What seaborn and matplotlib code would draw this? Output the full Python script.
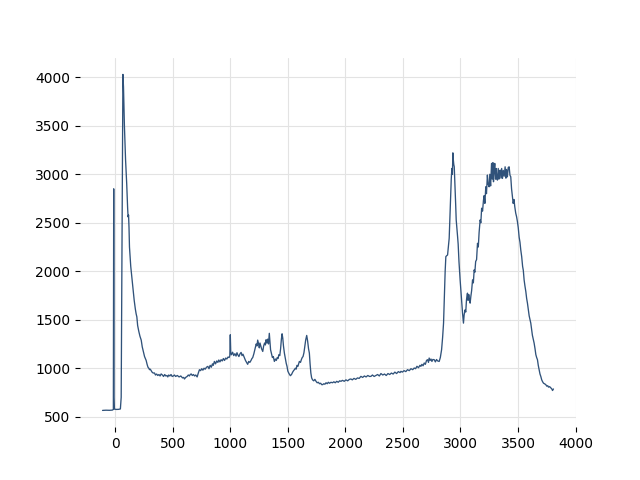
import pandas as pd
import matplotlib
matplotlib.use("Agg")
import matplotlib.pyplot as plt
import seaborn as sns

# spectrum (shift vs. intensity)
shift = [
    -110, -80, -50, -25, -16, -13, -10, -7, 10, 30, 45, 52, 60, 67, 72, 80, 90, 100, 108, 112,
    116, 120, 124, 135, 145, 153, 165, 175, 182, 188, 195, 205, 215, 226, 235, 245, 255, 262, 269, 277,
    285, 292, 298, 305, 312, 320, 330, 341, 350, 360, 370, 380, 390, 399, 410, 420, 430, 440, 450, 457,
    465, 475, 485, 495, 505, 515, 525, 540, 555, 570, 585, 595, 602, 612, 625, 635, 645, 652, 660, 670,
    680, 690, 700, 712, 722, 732, 742, 752, 762, 772, 782, 793, 805, 815, 825, 835, 845, 852, 862, 872,
    882, 892, 900, 910, 920, 930, 940, 950, 960, 970, 980, 990, 996, 1000, 1004, 1010, 1020, 1030, 1040, 1050,
    1058, 1065, 1075, 1085, 1094, 1102, 1110, 1122, 1132, 1142, 1151, 1160, 1170, 1180, 1188, 1195, 1205, 1215, 1225, 1232,
    1238, 1246, 1252, 1258, 1265, 1272, 1282, 1290, 1298, 1305, 1311, 1318, 1325, 1332, 1339, 1345, 1350, 1358, 1366, 1374,
    1383, 1392, 1400, 1408, 1415, 1422, 1430, 1437, 1444, 1450, 1456, 1462, 1470, 1478, 1486, 1493, 1500, 1510, 1522, 1532,
    1542, 1550, 1557, 1565, 1572, 1580, 1588, 1595, 1600, 1610, 1618, 1625, 1632, 1640, 1648, 1655, 1664, 1672, 1680, 1687,
    1693, 1700, 1707, 1715, 1725, 1735, 1745, 1755, 1765, 1775, 1785, 1795, 1803, 1812, 1822, 1832, 1842, 1852, 1862, 1875,
    1888, 1900, 1912, 1925, 1938, 1950, 1962, 1975, 1990, 2005, 2020, 2035, 2048, 2060, 2075, 2090, 2105, 2120, 2135, 2150,
    2165, 2180, 2195, 2210, 2222, 2235, 2250, 2265, 2280, 2295, 2309, 2325, 2340, 2355, 2370, 2385, 2400, 2415, 2430, 2445,
    2460, 2475, 2483, 2495, 2510, 2525, 2540, 2555, 2570, 2585, 2598, 2610, 2622, 2635, 2648, 2656, 2665, 2675, 2685, 2695,
    2705, 2714, 2722, 2728, 2736, 2744, 2752, 2760, 2772, 2782, 2792, 2802, 2815, 2825, 2836, 2845, 2853, 2860, 2867, 2873,
    2880, 2888, 2895, 2902, 2908, 2914, 2920, 2925, 2930, 2934, 2938, 2942, 2946, 2952, 2958, 2963, 2970, 2975, 2980, 2987,
    2997, 3005, 3012, 3018, 3022, 3026, 3032, 3040, 3046, 3052, 3058, 3061, 3066, 3072, 3078, 3084, 3090, 3097, 3105, 3112,
    3119, 3125, 3132, 3140, 3148, 3155, 3162, 3171, 3177, 3184, 3192, 3200, 3206, 3212, 3220, 3226, 3234, 3240, 3249, 3255,
    3262, 3270, 3276, 3282, 3287, 3293, 3298, 3305, 3310, 3315, 3321, 3328, 3334, 3340, 3345, 3352, 3358, 3365, 3372, 3380,
    3388, 3395, 3400, 3408, 3415, 3423, 3430, 3437, 3444, 3452, 3458, 3465, 3472, 3480, 3488, 3495, 3502, 3510, 3517, 3524,
    3532, 3540, 3546, 3553, 3560, 3568, 3575, 3582, 3590, 3597, 3604, 3611, 3618, 3625, 3632, 3640, 3648, 3655, 3662, 3669,
    3676, 3684, 3691, 3698, 3706, 3714, 3722, 3730, 3741, 3750, 3758, 3765, 3775, 3785, 3792, 3800, 3808,
]
intensity = [
    565, 567, 566, 568, 575, 2850, 700, 578, 575, 576, 580, 700, 2500, 4030, 3900, 3500, 3150, 2900, 2650, 2560,
    2580, 2450, 2250, 2050, 1930, 1840, 1700, 1610, 1560, 1530, 1440, 1380, 1330, 1290, 1220, 1170, 1120, 1100, 1080, 1040,
    1010, 1000, 985, 990, 975, 960, 950, 951, 930, 940, 925, 935, 920, 941, 930, 915, 935, 920, 925, 910,
    930, 920, 935, 915, 920, 930, 915, 925, 910, 920, 900, 905, 889, 905, 915, 930, 920, 935, 941, 925,
    935, 920, 930, 910, 950, 985, 975, 995, 980, 1000, 990, 1010, 1019, 995, 1030, 1010, 1045, 1030, 1070, 1045,
    1075, 1060, 1085, 1065, 1088, 1075, 1100, 1080, 1105, 1095, 1115, 1110, 1130, 1345, 1160, 1139, 1165, 1130, 1150, 1125,
    1160, 1139, 1120, 1150, 1163, 1130, 1145, 1110, 1080, 1060, 1040, 1070, 1060, 1080, 1100, 1110, 1150, 1200, 1250, 1230,
    1290, 1250, 1210, 1260, 1230, 1200, 1173, 1230, 1260, 1240, 1294, 1260, 1300, 1250, 1360, 1260, 1190, 1150, 1110, 1120,
    1070, 1095, 1080, 1110, 1100, 1140, 1130, 1200, 1300, 1355, 1310, 1230, 1156, 1100, 1050, 1019, 970, 945, 923, 935,
    960, 975, 985, 1000, 990, 1030, 1020, 1050, 1070, 1060, 1090, 1110, 1120, 1160, 1230, 1290, 1338, 1280, 1200, 1156,
    1050, 950, 900, 880, 870, 885, 865, 850, 855, 840, 845, 830, 831, 840, 835, 850, 840, 855, 845, 855,
    850, 860, 850, 865, 855, 870, 865, 875, 865, 880, 870, 885, 889, 880, 895, 885, 900, 895, 916, 905,
    920, 910, 925, 915, 916, 930, 915, 925, 935, 920, 945, 930, 940, 925, 945, 935, 950, 940, 960, 945,
    965, 955, 968, 960, 975, 965, 985, 975, 995, 985, 1002, 995, 1020, 1005, 1030, 1019, 1040, 1025, 1054, 1040,
    1080, 1088, 1060, 1105, 1080, 1095, 1070, 1090, 1088, 1065, 1090, 1075, 1070, 1110, 1191, 1320, 1465, 1750, 2000, 2151,
    2160, 2168, 2250, 2340, 2550, 2780, 2950, 3060, 3000, 3221, 3150, 3100, 3077, 2900, 2700, 2529, 2420, 2357, 2280, 2100,
    1911, 1780, 1650, 1568, 1520, 1465, 1550, 1602, 1580, 1700, 1760, 1774, 1700, 1760, 1710, 1671, 1739, 1800, 1911, 1880,
    2014, 1990, 2100, 2120, 2288, 2250, 2400, 2529, 2500, 2650, 2620, 2734, 2780, 2700, 2871, 2800, 2992, 2900, 2871, 3000,
    2880, 3112, 2950, 3120, 2923, 3050, 3112, 2950, 3060, 2960, 2940, 3060, 2950, 3030, 3043, 2960, 3060, 2957, 3040, 2980,
    3077, 2960, 3050, 2974, 3070, 3077, 2990, 2974, 2850, 2768, 2700, 2740, 2665, 2600, 2560, 2511, 2450, 2350, 2300, 2220,
    2150, 2050, 2010, 1911, 1850, 1790, 1720, 1671, 1600, 1540, 1500, 1465, 1400, 1340, 1300, 1259, 1200, 1140, 1110, 1088,
    1030, 980, 940, 916, 880, 860, 845, 840, 831, 815, 820, 805, 810, 797, 790, 770, 786,
]

df = pd.DataFrame({"shift": shift, "intensity": intensity})

sns.set_style("whitegrid", {
    "grid.color": "#e3e3e3",
    "xtick.bottom": True,
    "ytick.left": True,
    "xtick.color": "black",
    "ytick.color": "black",
})

fig, ax = plt.subplots(figsize=(6.4, 4.8), dpi=100)
sns.lineplot(data=df, x="shift", y="intensity", sort=False, estimator=None,
             color="#30527a", linewidth=0.95, ax=ax)
ax.set_xlabel("")
ax.set_ylabel("")
ax.set_xticks([0, 500, 1000, 1500, 2000, 2500, 3000, 3500, 4000])
ax.set_yticks([500, 1000, 1500, 2000, 2500, 3000, 3500, 4000])
ax.tick_params(length=3.5, labelsize=10)
sns.despine(left=True, bottom=True)

fig.savefig("out.png", dpi=100)
